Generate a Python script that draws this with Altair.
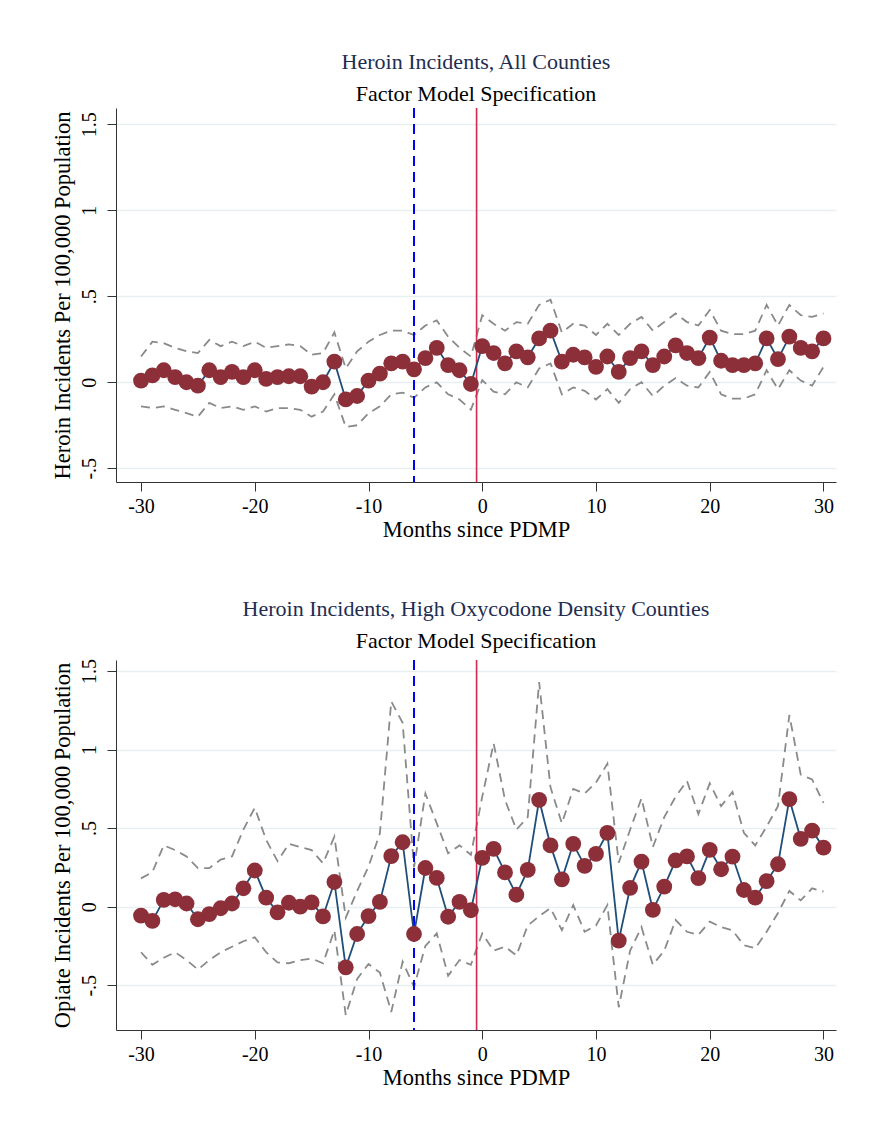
import altair as alt
import pandas as pd

months = list(range(-30, 31))

# Top panel: Heroin incidents, all counties
top_est = [0.01, 0.04, 0.07, 0.03, 0.0, -0.02, 0.07, 0.03, 0.06, 0.03, 0.07, 0.02, 0.03, 0.035, 0.035,
           -0.025, 0.0, 0.12, -0.10, -0.08, 0.01, 0.05, 0.11, 0.12, 0.075, 0.14, 0.20, 0.10, 0.07, -0.01,
           0.21, 0.17, 0.11, 0.18, 0.145, 0.255, 0.30, 0.12, 0.16, 0.145, 0.09, 0.15, 0.06, 0.14, 0.18,
           0.10, 0.15, 0.215, 0.17, 0.14, 0.26, 0.125, 0.10, 0.10, 0.11, 0.255, 0.135, 0.265, 0.20, 0.18, 0.255]
top_hi = [0.15, 0.236, 0.227, 0.20, 0.18, 0.17, 0.246, 0.21, 0.236, 0.21, 0.236, 0.20, 0.21, 0.22, 0.21,
          0.16, 0.17, 0.29, 0.08, 0.18, 0.236, 0.275, 0.30, 0.30, 0.275, 0.33, 0.36, 0.265, 0.20, 0.15,
          0.39, 0.34, 0.30, 0.35, 0.34, 0.45, 0.48, 0.29, 0.34, 0.33, 0.275, 0.34, 0.275, 0.34, 0.38,
          0.30, 0.35, 0.40, 0.35, 0.33, 0.42, 0.30, 0.28, 0.28, 0.30, 0.45, 0.33, 0.45, 0.39, 0.38, 0.40]
top_lo = [-0.14, -0.15, -0.14, -0.16, -0.18, -0.20, -0.12, -0.15, -0.14, -0.16, -0.14, -0.17, -0.15, -0.15, -0.16,
          -0.20, -0.17, -0.07, -0.26, -0.25, -0.18, -0.14, -0.07, -0.06, -0.09, -0.03, 0.0, -0.07, -0.10, -0.16,
          0.013, -0.055, -0.07, 0.0, -0.03, 0.08, 0.11, -0.07, -0.03, -0.05, -0.10, -0.04, -0.12, -0.04, 0.0,
          -0.08, -0.02, 0.025, -0.02, -0.03, 0.06, -0.07, -0.095, -0.095, -0.07, 0.07, -0.04, 0.07, 0.01, -0.02, 0.09]

# Bottom panel: Heroin incidents, high oxycodone density counties
bot_est = [-0.057, -0.09, 0.043, 0.047, 0.02, -0.08, -0.047, -0.01, 0.02, 0.117, 0.23, 0.057, -0.036, 0.025, 0.0,
           0.027, -0.062, 0.157, -0.386, -0.174, -0.06, 0.03, 0.322, 0.41, -0.174, 0.246, 0.183, -0.064, 0.031, -0.023,
           0.31, 0.368, 0.218, 0.076, 0.234, 0.68, 0.39, 0.174, 0.40, 0.26, 0.336, 0.47, -0.216, 0.12, 0.287,
           -0.02, 0.128, 0.295, 0.32, 0.182, 0.362, 0.238, 0.318, 0.106, 0.058, 0.162, 0.27, 0.684, 0.432, 0.484, 0.376]
bot_hi = [0.18, 0.22, 0.39, 0.36, 0.32, 0.245, 0.245, 0.30, 0.32, 0.49, 0.63, 0.425, 0.29, 0.40, 0.38,
          0.36, 0.276, 0.446, -0.07, 0.10, 0.255, 0.467, 1.306, 1.17, 0.25, 0.72, 0.53, 0.34, 0.39, 0.33,
          0.70, 1.04, 0.68, 0.49, 0.57, 1.43, 0.76, 0.53, 0.75, 0.72, 0.79, 0.91, 0.28, 0.49, 0.69,
          0.38, 0.57, 0.70, 0.80, 0.59, 0.785, 0.64, 0.73, 0.47, 0.39, 0.51, 0.64, 1.22, 0.84, 0.81, 0.66]
bot_lo = [-0.29, -0.37, -0.325, -0.29, -0.34, -0.40, -0.34, -0.29, -0.255, -0.22, -0.195, -0.29, -0.355, -0.36, -0.34,
          -0.33, -0.36, -0.15, -0.69, -0.46, -0.365, -0.42, -0.67, -0.35, -0.51, -0.25, -0.17, -0.44, -0.34, -0.37,
          -0.17, -0.28, -0.255, -0.31, -0.12, -0.06, -0.01, -0.15, 0.01, -0.16, -0.12, 0.01, -0.64, -0.28, -0.13,
          -0.37, -0.28, -0.085, -0.16, -0.18, -0.095, -0.13, -0.15, -0.245, -0.265, -0.16, -0.04, 0.10, 0.04, 0.117, 0.096]

x_ticks = [-30, -20, -10, 0, 10, 20, 30]
y_ticks = [-0.5, 0, 0.5, 1, 1.5]
pdmp_line = [-0.5]
anticipation_line = [-6]

FONT = "Liberation Serif"
POINT_COLOR = "#8c2f39"
LINE_COLOR = "#1f4e79"
CI_COLOR = "#8a8a8a"

X_LABEL = "replace(replace(format(datum.value, ''), '\u2212', '-'), '0.', '.')"


def panel(title, ytitle, est, lo, hi, ydom, height, offset):
    df = pd.DataFrame({"m": months, "est": est, "lo": lo, "hi": hi})
    xs = alt.Scale(domain=[-32.2, 31.1], nice=False, zero=False)
    ys = alt.Scale(domain=ydom, nice=False, zero=False)
    xax = alt.Axis(values=x_ticks, title="Months since PDMP", grid=False, tickSize=9,
                   labelExpr=X_LABEL,
                   labelFontSize=20, titleFontSize=22.5, labelPadding=5, titlePadding=2,
                   domainColor="#333333", tickColor="#333333", labelColor="#000000",
                   titleColor="#000000", labelFont=FONT, titleFont=FONT, titleFontWeight="normal")
    yax = alt.Axis(values=y_ticks, title=ytitle, grid=True, gridColor="#e6f0f1", gridWidth=1.5,
                   tickSize=9, labelAngle=270, labelAlign="center", labelBaseline="bottom",
                   labelExpr=X_LABEL,
                   labelFontSize=20, titleFontSize=22.5, labelPadding=8, titlePadding=5,
                   domainColor="#333333", tickColor="#333333", labelColor="#000000",
                   titleColor="#000000", labelFont=FONT, titleFont=FONT, titleFontWeight="normal")
    base = alt.Chart(df)
    x = alt.X("m:Q", scale=xs, axis=xax)
    hi_line = base.mark_line(color=CI_COLOR, strokeDash=[9, 6], strokeWidth=1.8).encode(
        x=x, y=alt.Y("hi:Q", scale=ys, axis=yax))
    lo_line = base.mark_line(color=CI_COLOR, strokeDash=[9, 6], strokeWidth=1.8).encode(
        x="m:Q", y="lo:Q")
    est_line = base.mark_line(color=LINE_COLOR, strokeWidth=1.8).encode(x="m:Q", y="est:Q")
    pts = base.mark_circle(color=POINT_COLOR, opacity=1, size=250).encode(x="m:Q", y="est:Q")
    blue = alt.Chart(pd.DataFrame({"v": anticipation_line})).mark_rule(
        color="#0000ff", strokeDash=[10, 6], strokeWidth=2).encode(x="v:Q")
    red = alt.Chart(pd.DataFrame({"v": pdmp_line})).mark_rule(
        color="#d42a4e", strokeWidth=1.6).encode(x="v:Q")
    return alt.layer(hi_line, lo_line, blue, red, est_line, pts).properties(
        width=720, height=height,
        title=alt.TitleParams(text=title, subtitle="Factor Model Specification",
                              font=FONT, fontSize=22, fontWeight="normal", color="#1e2d52",
                              subtitleFont=FONT, subtitleFontSize=22, subtitleColor="#000000",
                              subtitlePadding=10, offset=offset, anchor="middle"))


top = panel("Heroin Incidents, All Counties", "Heroin Incidents Per 100,000 Population",
            top_est, top_lo, top_hi, [-0.58, 1.595], 374, 1)
bottom = panel("Heroin Incidents, High Oxycodone Density Counties", "Opiate Incidents Per 100,000 Population",
               bot_est, bot_lo, bot_hi, [-0.785, 1.57], 370, 5)

chart = alt.vconcat(top, bottom, spacing=57).properties(
    padding={"left": 50, "top": 51, "right": 20, "bottom": 10},
    background="white"
).configure_view(stroke=None)

chart.save("out.html", embed_options={"renderer": "svg", "actions": False})
